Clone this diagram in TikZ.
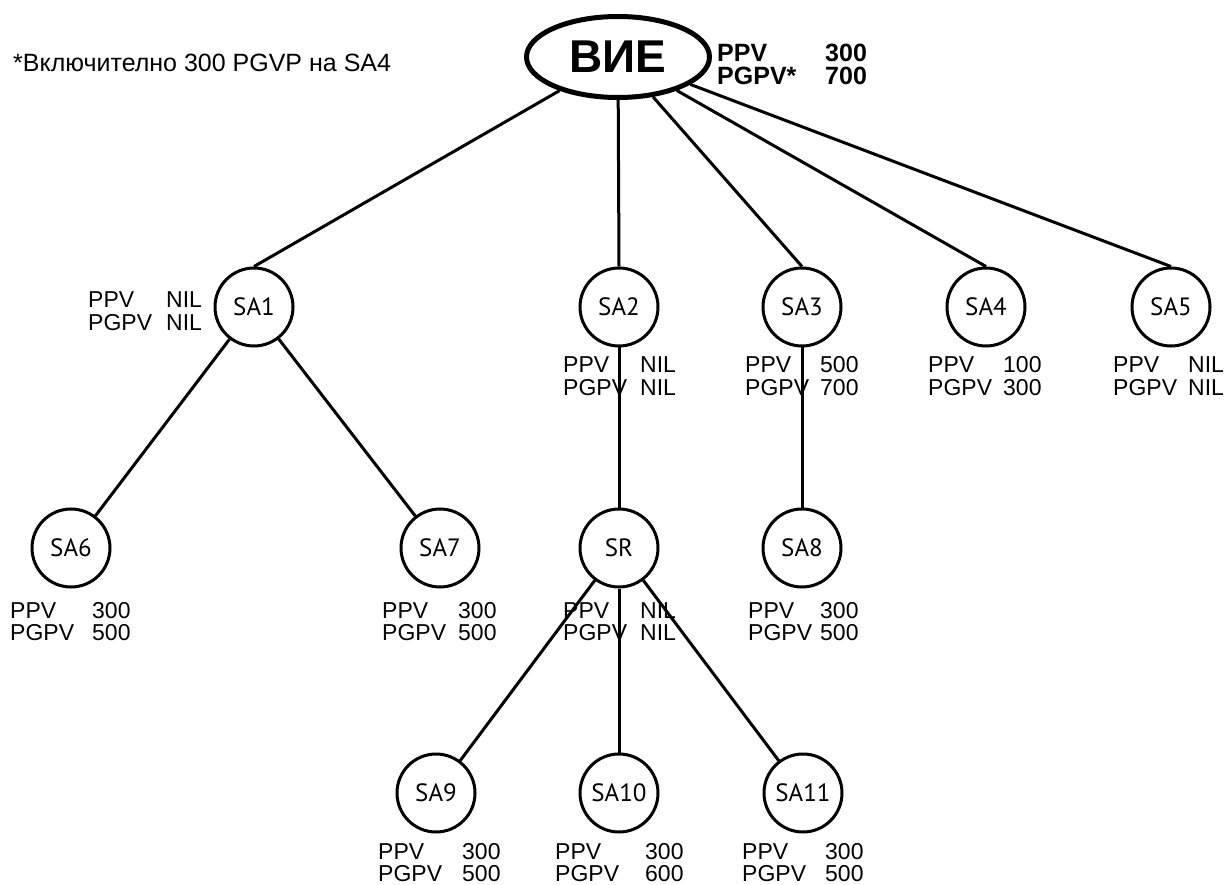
\documentclass[tikz,border=0pt]{standalone}
\usepackage{fontspec}
\setmainfont{Liberation Sans}
\newfontfamily\ptsans{PT Sans}
\usetikzlibrary{shapes.geometric}
\newcommand\mylbl[6]{\node[lbl] (#1) at (#2,#3) {\begin{tabular}[t]{@{}l@{}l@{}}\makebox[#4pt][l]{PPV}&#5\\\makebox[#4pt][l]{PGPV}&#6\end{tabular}};}
\begin{document}
\begin{tikzpicture}[x=1pt,y=-1pt,
  sa/.style={circle, draw, line width=3pt, minimum size=78pt, inner sep=0pt, font=\ptsans\fontsize{25}{25}\selectfont},
  root/.style={ellipse, draw, line width=5pt, minimum width=183pt, minimum height=81pt, inner sep=0pt, font=\bfseries\fontsize{46}{46}\selectfont},
  conn/.style={line width=3pt},
  lbl/.style={anchor=base west, inner sep=0pt, font=\fontsize{23}{20}\selectfont},
  rootlbl/.style={anchor=base west, inner sep=0pt, font=\bfseries\fontsize{25}{18}\selectfont},
  note/.style={anchor=base west, inner sep=0pt, font=\fontsize{25}{25}\selectfont},
]
\useasboundingbox[fill=white] (0,0) rectangle (1227,885);

\node[root] (VIE) at (618,57) {ВИЕ};
\node[sa] (SA1) at (254,307) {SA1};
\node[sa] (SA2) at (619,307) {SA2};
\node[sa] (SA3) at (802,307) {SA3};
\node[sa] (SA4) at (986,307) {SA4};
\node[sa] (SA5) at (1171,307) {SA5};
\node[sa] (SA6) at (71,548) {SA6};
\node[sa] (SA7) at (440,548) {SA7};
\node[sa] (SR)  at (619,548) {SR};
\node[sa] (SA8) at (802,548) {SA8};
\node[sa] (SA9) at (436,793) {SA9};
\node[sa] (SA10) at (619,793) {SA10};
\node[sa] (SA11) at (803,793) {SA11};

\draw[conn] (VIE) -- (SA1.north);
\draw[conn] (VIE) -- (SA2.north);
\draw[conn] (VIE) -- (SA3.north);
\draw[conn] (VIE) -- (SA4.north);
\draw[conn] (VIE) -- (SA5.north);
\draw[conn] (SA1) -- (SA6);
\draw[conn] (SA1) -- (SA7);
\draw[conn] (SA2) -- (SR);
\draw[conn] (SA3) -- (SA8);
\draw[conn] (SR) -- (SA9);
\draw[conn] (SR) -- (SA10);
\draw[conn] (SR) -- (SA11);

\node[note] (fn) at (13,72) {*Включително 300 PGVP на SA4};
\node[rootlbl] (rl) at (717,62) {\begin{tabular}[t]{@{}l@{}l@{}}\makebox[108pt][l]{PPV}&300\\\makebox[108pt][l]{PGPV*}&700\end{tabular}};

\mylbl{l1}{88}{308}{78}{NIL}{NIL}
\mylbl{l2}{563}{373}{77}{NIL}{NIL}
\mylbl{l3}{745}{373}{75}{500}{700}
\mylbl{l4}{928}{373}{75}{100}{300}
\mylbl{l5}{1113}{373}{75}{NIL}{NIL}
\mylbl{l6}{10}{618}{82}{300}{500}
\mylbl{l7}{382}{618}{76}{300}{500}
\mylbl{lR}{563}{618}{77}{NIL}{NIL}
\mylbl{l8}{748}{618}{72}{300}{500}
\mylbl{l9}{378}{859}{84}{300}{500}
\mylbl{l10}{555}{859}{90}{300}{600}
\mylbl{l11}{742}{859}{83}{300}{500}
\end{tikzpicture}
\end{document}
